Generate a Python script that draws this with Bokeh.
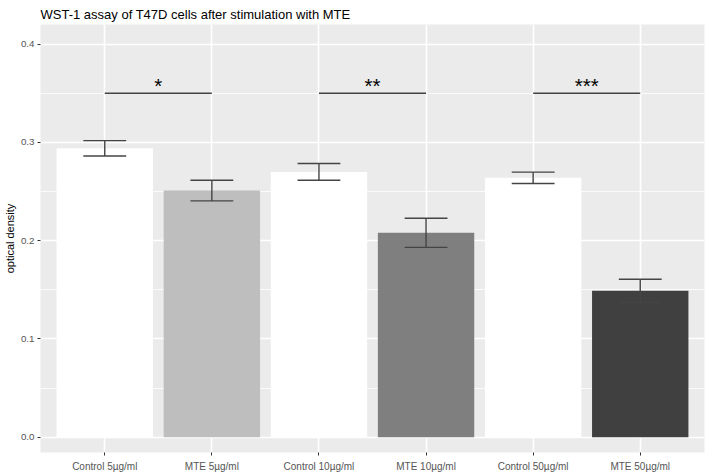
from bokeh.plotting import figure
from bokeh.models import Range1d, FixedTicker, ColumnDataSource
from bokeh.embed import file_html
from bokeh.resources import INLINE
from bokeh.core.properties import value

categories = ["Control 5µg/ml", "MTE 5µg/ml", "Control 10µg/ml",
              "MTE 10µg/ml", "Control 50µg/ml", "MTE 50µg/ml"]
means = [0.294, 0.251, 0.270, 0.208, 0.264, 0.149]
errors = [0.0078, 0.0105, 0.0085, 0.0148, 0.0058, 0.0118]
bar_colors = ["#FFFFFF", "#BEBEBE", "#FFFFFF", "#7F7F7F", "#FFFFFF", "#404040"]
sig_left = [1, 3, 5]
sig_right = [2, 4, 6]
sig_labels = ["*", "**", "***"]
sig_y = 0.35
y_ticks = [0.0, 0.1, 0.2, 0.3, 0.4]
y_minor = [0.05, 0.15, 0.25, 0.35]

FONT = "Liberation Sans"
xs = list(range(1, len(categories) + 1))

src = ColumnDataSource(dict(
    x=xs, top=means, color=bar_colors,
    lo=[m - e for m, e in zip(means, errors)],
    hi=[m + e for m, e in zip(means, errors)],
    cl=[x - 0.2 for x in xs], cr=[x + 0.2 for x in xs],
))

p = figure(width=708, height=475, output_backend="svg", toolbar_location=None,
           x_range=Range1d(0.4, 6.6), y_range=Range1d(-0.0155, 0.42),
           min_border_left=40, min_border_right=4, min_border_top=24, min_border_bottom=23,
           background_fill_color="#EBEBEB", border_fill_color="white")
p.outline_line_color = None

p.title.text = "WST-1 assay of T47D cells after stimulation with MTE"
p.title.text_font = FONT
p.title.text_font_size = "13px"
p.title.text_font_style = "normal"
p.title.text_color = "black"
p.title.standoff = 5

p.vbar(x="x", top="top", bottom=0, width=0.9, fill_color="color", line_color=None, source=src)
p.segment(x0="x", x1="x", y0="lo", y1="hi", line_color="#444444", line_width=1.4, source=src)
p.segment(x0="cl", x1="cr", y0="hi", y1="hi", line_color="#444444", line_width=1.4, source=src)
p.segment(x0="cl", x1="cr", y0="lo", y1="lo", line_color="#444444", line_width=1.4, source=src)

sig_src = ColumnDataSource(dict(
    x0=sig_left, x1=sig_right, y=[sig_y] * len(sig_left),
    xm=[(a + b) / 2 for a, b in zip(sig_left, sig_right)], label=sig_labels,
))
p.segment(x0="x0", x1="x1", y0="y", y1="y", line_color="#444444", line_width=1.4, source=sig_src)
p.text(x="xm", y="y", text="label", source=sig_src, text_align="center",
       text_baseline="alphabetic", text_font=value(FONT), text_font_size="20.5px",
       text_color="black", y_offset=-8)

# grids
p.xgrid.ticker = FixedTicker(ticks=xs)
p.xgrid.grid_line_color = "white"
p.xgrid.grid_line_width = 1.6
p.ygrid.ticker = FixedTicker(ticks=y_ticks, minor_ticks=y_minor)
p.ygrid.grid_line_color = "white"
p.ygrid.grid_line_width = 1.6
p.ygrid.minor_grid_line_color = "white"
p.ygrid.minor_grid_line_width = 0.8

# axes
p.xaxis.ticker = FixedTicker(ticks=xs)
p.xaxis.major_label_overrides = {x: c for x, c in zip(xs, categories)}
p.yaxis.ticker = FixedTicker(ticks=y_ticks, minor_ticks=y_minor)
p.yaxis.major_label_overrides = {t: f"{t:.1f}" for t in y_ticks}
for ax in (p.xaxis[0], p.yaxis[0]):
    ax.axis_line_color = None
    ax.major_tick_line_color = "#333333"
    ax.major_tick_out = 3
    ax.major_tick_in = 0
    ax.minor_tick_line_color = None
    ax.major_label_text_font = FONT
    ax.major_label_text_color = "#555555"
p.xaxis.major_label_text_font_size = "10px"
p.yaxis.major_label_text_font_size = "9.8px"
p.xaxis.major_label_standoff = 5
p.yaxis.major_label_standoff = 2
p.yaxis.axis_label = "optical density"
p.yaxis.axis_label_text_font = FONT
p.yaxis.axis_label_text_font_size = "11px"
p.yaxis.axis_label_text_font_style = "normal"
p.yaxis.axis_label_text_color = "black"
p.yaxis.axis_label_standoff = 2

open("out.html", "w").write(file_html(p, INLINE))
